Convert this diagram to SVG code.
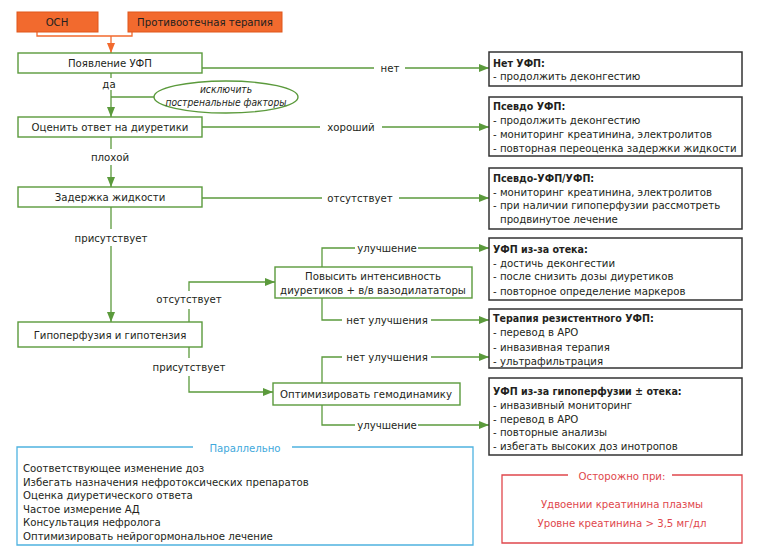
<svg xmlns="http://www.w3.org/2000/svg" width="758" height="552" viewBox="0 0 758 552">
<defs>
<marker id="ag" viewBox="0 0 10 8" refX="10" refY="4" markerWidth="10" markerHeight="8" markerUnits="userSpaceOnUse" orient="auto"><path d="M0,0 L10,4 L0,8 z" fill="#5B9A3C"/></marker>
<marker id="ao" viewBox="0 0 10 8" refX="10" refY="4" markerWidth="10" markerHeight="8" markerUnits="userSpaceOnUse" orient="auto"><path d="M0,0 L10,4 L0,8 z" fill="#F26A2E"/></marker>
</defs>
<style>
text{font-family:"DejaVu Sans Condensed","Liberation Sans Narrow","Liberation Sans",sans-serif;font-size:11.3px;fill:#231F20}
.c{text-anchor:middle}
.b{font-weight:bold;font-size:10.6px}
.node{fill:#fff;stroke:#5B9A3C;stroke-width:1.4}
.res{fill:#fff;stroke:#333;stroke-width:1.5}
.org{fill:#F26A2E;stroke:#E0561B;stroke-width:1}
.ln{fill:none;stroke:#5B9A3C;stroke-width:1.3}
.lo{fill:none;stroke:#F26A2E;stroke-width:1.3}
.it{font-style:italic;font-size:10.2px}
.blue{fill:#3FA9DC}
.red{fill:#E0474C}
</style>
<rect width="758" height="552" fill="#fff"/>

<g id="connectors">
<path class="lo" d="M37,32 V36 H132 V32"/>
<path class="lo" d="M111,36 V53" marker-end="url(#ao)"/>
<path class="ln" d="M111,73 V78"/>
<path class="ln" d="M111,90 V117" marker-end="url(#ag)"/>
<path class="ln" d="M111,97 H155"/>
<path class="ln" d="M111,137 V149"/>
<path class="ln" d="M111,165 V187" marker-end="url(#ag)"/>
<path class="ln" d="M111,207 V229"/>
<path class="ln" d="M111,246 V322" marker-end="url(#ag)"/>
<path class="ln" d="M202,68 H374"/>
<path class="ln" d="M405,68 H489" marker-end="url(#ag)"/>
<path class="ln" d="M202,127 H320"/>
<path class="ln" d="M382,127 H489" marker-end="url(#ag)"/>
<path class="ln" d="M202,198 H322"/>
<path class="ln" d="M399,198 H489" marker-end="url(#ag)"/>
<path class="ln" d="M189,322 V309"/>
<path class="ln" d="M189,291 V282 H275" marker-end="url(#ag)"/>
<path class="ln" d="M189,347 V358"/>
<path class="ln" d="M189,376 V392 H273" marker-end="url(#ag)"/>
<path class="ln" d="M322,267 V248 H355"/>
<path class="ln" d="M418,248 H489" marker-end="url(#ag)"/>
<path class="ln" d="M322,298 V320 H342"/>
<path class="ln" d="M431,320 H489" marker-end="url(#ag)"/>
<path class="ln" d="M322,383 V357 H342"/>
<path class="ln" d="M431,357 H489" marker-end="url(#ag)"/>
<path class="ln" d="M322,405 V425 H355"/>
<path class="ln" d="M418,425 H489" marker-end="url(#ag)"/>
<text class="c" x="109" y="88">да</text>
<text class="c" x="110" y="161">плохой</text>
<text class="c" x="111" y="242">присутствует</text>
<text class="c" x="390" y="72">нет</text>
<text class="c" x="351" y="131">хороший</text>
<text class="c" x="360" y="202">отсутствует</text>
<text class="c" x="189" y="303">отсутствует</text>
<text class="c" x="189" y="371">присутствует</text>
<text class="c" x="387" y="252">улучшение</text>
<text class="c" x="387" y="324">нет улучшения</text>
<text class="c" x="387" y="361">нет улучшения</text>
<text class="c" x="387" y="429">улучшение</text>
</g>

<g id="osn"><rect class="org" x="17" y="12" width="81" height="20"/><text class="c" x="57" y="26">ОСН</text></g>
<g id="therapy"><rect class="org" x="128" y="12" width="154" height="20"/><text class="c" x="205" y="26">Противоотечная терапия</text></g>

<g id="n-ufp"><rect class="node" x="18" y="53" width="184" height="20"/><text class="c" x="110" y="67">Появление УФП</text></g>
<g id="n-exclude"><ellipse class="node" cx="226" cy="97" rx="72" ry="16"/><text class="c it" x="226" y="93">исключить</text><text class="c it" x="226" y="106">постренальные факторы</text></g>
<g id="n-assess"><rect class="node" x="18" y="117" width="184" height="20"/><text class="c" x="110" y="131">Оценить ответ на диуретики</text></g>
<g id="n-fluid"><rect class="node" x="18" y="187" width="184" height="20"/><text class="c" x="110" y="201">Задержка жидкости</text></g>
<g id="n-hypo"><rect class="node" x="18" y="322" width="184" height="25"/><text class="c" x="110" y="339">Гипоперфузия и гипотензия</text></g>
<g id="n-increase"><rect class="node" x="275" y="267" width="197" height="31"/><text class="c" x="373" y="280">Повысить интенсивность</text><text class="c" x="373" y="294">диуретиков + в/в вазодилататоры</text></g>
<g id="n-optimize"><rect class="node" x="273" y="383" width="187" height="22"/><text class="c" x="366" y="398">Оптимизировать гемодинамику</text></g>

<g id="r-none"><rect class="res" x="489" y="52" width="253" height="34"/><text class="b" x="493" y="67">Нет УФП:</text><text x="493" y="80">- продолжить деконгестию</text></g>
<g id="r-pseudo"><rect class="res" x="489" y="97" width="253" height="59"/><text class="b" x="493" y="110">Псевдо УФП:</text><text x="493" y="124">- продолжить деконгестию</text><text x="493" y="138">- мониторинг креатинина, электролитов</text><text x="493" y="152">- повторная переоценка задержки жидкости</text></g>
<g id="r-pseudo2"><rect class="res" x="489" y="168" width="253" height="61"/><text class="b" x="493" y="182">Псевдо-УФП/УФП:</text><text x="493" y="196">- мониторинг креатинина, электролитов</text><text x="493" y="209">- при наличии гипоперфузии рассмотреть</text><text x="500" y="223">продвинутое лечение</text></g>
<g id="r-edema"><rect class="res" x="489" y="238" width="253" height="62"/><text class="b" x="493" y="253">УФП из-за отека:</text><text x="493" y="267">- достичь деконгестии</text><text x="493" y="280">- после снизить дозы диуретиков</text><text x="493" y="295">- повторное определение маркеров</text></g>
<g id="r-resist"><rect class="res" x="489" y="309" width="253" height="59"/><text class="b" x="493" y="322">Терапия резистентного УФП:</text><text x="493" y="336">- перевод в АРО</text><text x="493" y="351">- инвазивная терапия</text><text x="493" y="365">- ультрафильтрация</text></g>
<g id="r-hypoperf"><rect class="res" x="489" y="378" width="253" height="77"/><text class="b" x="493" y="395">УФП из-за гипоперфузии ± отека:</text><text x="493" y="409">- инвазивный мониторинг</text><text x="493" y="423">- перевод в АРО</text><text x="493" y="436">- повторные анализы</text><text x="493" y="450">- избегать высоких доз инотропов</text></g>

<g id="parallel">
<path d="M193,447 H17 V545 H473 V447 H292" fill="none" stroke="#4FB3E0" stroke-width="1.3"/>
<text class="c blue" x="245" y="452">Параллельно</text>
<text x="23" y="472">Соответствующее изменение доз</text>
<text x="23" y="486">Избегать назначения нефротоксических препаратов</text>
<text x="23" y="499">Оценка диуретического ответа</text>
<text x="23" y="513">Частое измерение АД</text>
<text x="23" y="526">Консультация нефролога</text>
<text x="23" y="540">Оптимизировать нейрогормональное лечение</text>
</g>

<g id="caution">
<path d="M568,475 H502 V543 H742 V475 H672" fill="none" stroke="#E0474C" stroke-width="1.3"/>
<text class="c red" x="622" y="480">Осторожно при:</text>
<text class="c red" x="622" y="508">Удвоении креатинина плазмы</text>
<text class="c red" x="622" y="527">Уровне креатинина &gt; 3,5 мг/дл</text>
</g>
</svg>
